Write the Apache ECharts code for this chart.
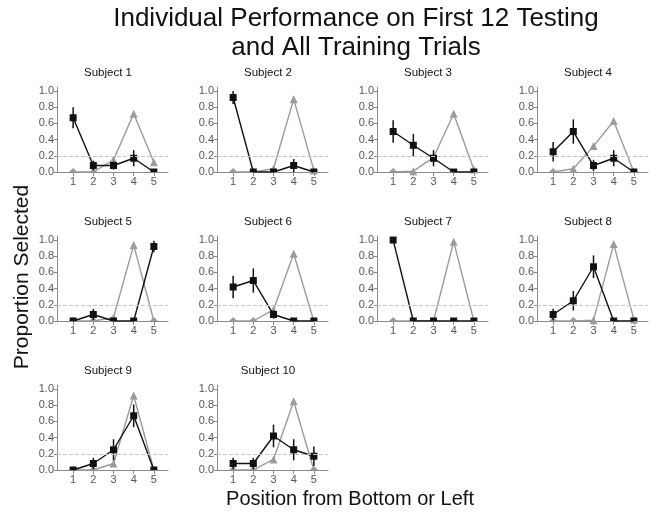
<!DOCTYPE html>
<html>
<head>
<meta charset="utf-8">
<script src="https://cdn.jsdelivr.net/npm/echarts@6/dist/echarts.min.js"></script>
<style>
  html, body { margin: 0; padding: 0; background: #fff; }
  #main { width: 656px; height: 515px; }
</style>
</head>
<body>
<div id="main"></div>
<script>
const positions = [1, 2, 3, 4, 5];
const subjects = ['Subject 1', 'Subject 2', 'Subject 3', 'Subject 4', 'Subject 5',
  'Subject 6', 'Subject 7', 'Subject 8', 'Subject 9', 'Subject 10'];
const yTicks = [0, 0.2, 0.4, 0.6, 0.8, 1.0];
const chanceLevel = 0.2;

// black squares: first 12 testing trials (mean, sem)
const testMean = [
  [0.67, 0.08, 0.08, 0.17, 0],
  [0.92, 0, 0, 0.08, 0],
  [0.50, 0.33, 0.17, 0, 0],
  [0.25, 0.50, 0.08, 0.17, 0],
  [0, 0.08, 0, 0, 0.92],
  [0.42, 0.50, 0.08, 0, 0],
  [1.0, 0, 0, 0, 0],
  [0.08, 0.25, 0.67, 0, 0],
  [0, 0.08, 0.25, 0.67, 0],
  [0.08, 0.08, 0.42, 0.25, 0.17]
];
const testSem = [
  [0.13, 0.06, 0.05, 0.10, 0],
  [0.08, 0, 0, 0.08, 0],
  [0.14, 0.14, 0.10, 0, 0],
  [0.12, 0.15, 0.07, 0.10, 0],
  [0, 0.07, 0, 0, 0.07],
  [0.14, 0.15, 0.05, 0, 0],
  [0, 0, 0, 0, 0],
  [0.07, 0.12, 0.14, 0, 0],
  [0, 0.07, 0.13, 0.14, 0],
  [0.07, 0.07, 0.14, 0.13, 0.12]
];
// grey triangles: all training trials
const trainMean = [
  [0, 0, 0.15, 0.72, 0.12],
  [0, 0, 0.04, 0.90, 0.02],
  [0, 0.01, 0.18, 0.72, 0.03],
  [0, 0.04, 0.32, 0.63, 0],
  [0, 0, 0.04, 0.94, 0],
  [0, 0, 0.14, 0.83, 0],
  [0, 0, 0, 0.98, 0],
  [0, 0, 0.01, 0.95, 0.02],
  [0, 0, 0.08, 0.92, 0],
  [0, 0, 0.13, 0.85, 0]
];

const font = 'Liberation Sans, Arial, sans-serif';
const chart = echarts.init(document.getElementById('main'), null, { renderer: 'canvas' });

// markers sitting on the x axis are cut in half by it, like in the original plot
function points(values, w, h) {
  return positions.map((p, k) => {
    const v = values[k];
    if (v > 0) return [p, v];
    return { value: [p, v], symbolSize: [w, h / 2], symbolOffset: [0, -h / 4] };
  });
}

const grids = [], xAxes = [], yAxes = [], series = [];
const graphics = [
  {
    type: 'text', x: 356, y: 4,
    style: {
      text: 'Individual Performance on First 12 Testing\nand All Training Trials',
      font: '26px ' + font, fill: '#111', textAlign: 'center', lineHeight: 29
    }
  },
  {
    type: 'text', x: 22, y: 277, rotation: Math.PI / 2,
    style: {
      text: 'Proportion Selected', font: '21px ' + font, fill: '#111',
      textAlign: 'center', textVerticalAlign: 'middle'
    }
  },
  {
    type: 'text', x: 350, y: 499,
    style: {
      text: 'Position from Bottom or Left', font: '20px ' + font, fill: '#111',
      textAlign: 'center', textVerticalAlign: 'middle'
    }
  }
];

subjects.forEach((name, i) => {
  const col = i % 4, row = Math.floor(i / 4);
  const left = 57 + 160 * col, top = 87 + 149 * row;
  grids.push({ left: left, top: top, width: 111, height: 85 });
  xAxes.push({
    type: 'value', gridIndex: i, min: 0.2, max: 5.7,
    axisLine: { lineStyle: { color: '#8a8a8a', width: 1 } },
    axisTick: { customValues: positions, length: 4, lineStyle: { color: '#8a8a8a' } },
    axisLabel: { customValues: positions, margin: 4, color: '#555', fontSize: 11, fontFamily: font },
    splitLine: { show: false }
  });
  yAxes.push({
    type: 'value', gridIndex: i, min: 0, max: 1.05,
    axisLine: { show: true, lineStyle: { color: '#8a8a8a', width: 1 } },
    axisTick: { show: true, customValues: yTicks, length: 3, lineStyle: { color: '#8a8a8a' } },
    axisLabel: {
      customValues: yTicks, margin: 3, color: '#555', fontSize: 11, fontFamily: font,
      formatter: (v) => v.toFixed(1)
    },
    splitLine: { show: false }
  });
  graphics.push({
    type: 'text', x: 108 + 160 * col, y: 73 + 149 * row,
    style: {
      text: name, font: '11.5px ' + font, fill: '#111',
      textAlign: 'center', textVerticalAlign: 'middle'
    }
  });

  series.push({
    type: 'line', xAxisIndex: i, yAxisIndex: i,
    data: points(trainMean[i], 8, 8),
    symbol: 'triangle', symbolSize: 8,
    itemStyle: { color: '#9b9b9b' },
    lineStyle: { color: '#9b9b9b', width: 1.4 },
    z: 2,
    markLine: {
      silent: true, symbol: 'none', label: { show: false },
      lineStyle: { color: '#c6c6c6', type: 'dashed', width: 1 },
      data: [{ yAxis: chanceLevel }]
    }
  });
  series.push({
    type: 'custom', xAxisIndex: i, yAxisIndex: i, z: 3,
    data: positions.map((p, k) => [p, testMean[i][k] - testSem[i][k], testMean[i][k] + testSem[i][k]]),
    renderItem: (params, api) => {
      const lo = api.coord([api.value(0), api.value(1)]);
      const hi = api.coord([api.value(0), api.value(2)]);
      return {
        type: 'line',
        shape: { x1: lo[0], y1: lo[1], x2: hi[0], y2: hi[1] },
        style: { stroke: '#111', lineWidth: 1.5 }
      };
    }
  });
  series.push({
    type: 'line', xAxisIndex: i, yAxisIndex: i,
    data: points(testMean[i], 7, 7),
    symbol: 'rect', symbolSize: 7,
    itemStyle: { color: '#111' },
    lineStyle: { color: '#111', width: 1.4 },
    z: 4
  });
});

chart.setOption({
  animation: false,
  backgroundColor: '#fff',
  grid: grids,
  xAxis: xAxes,
  yAxis: yAxes,
  series: series,
  graphic: graphics
});
</script>
</body>
</html>
